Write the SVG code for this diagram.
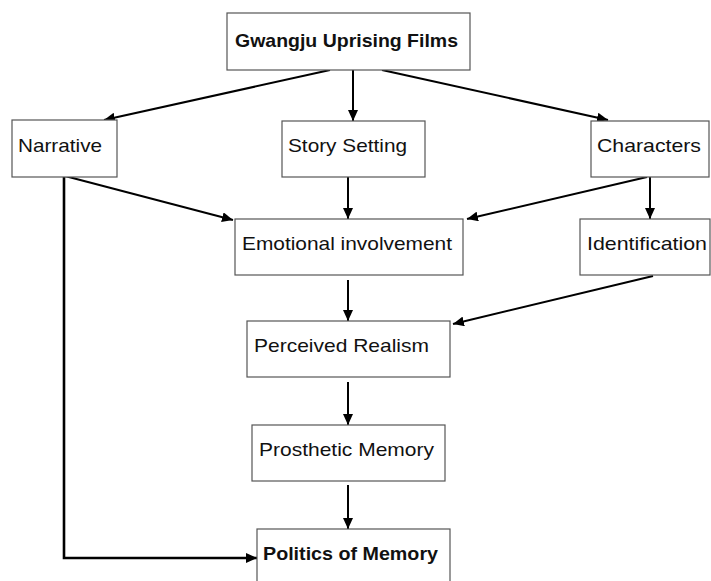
<svg xmlns="http://www.w3.org/2000/svg" width="711" height="581" viewBox="0 0 711 581">
<defs>
<marker id="ah" markerUnits="userSpaceOnUse" markerWidth="12" markerHeight="10" refX="11" refY="5" orient="auto">
<path d="M0,0 L11,5 L0,10 z" fill="#000"/>
</marker>
<style>
.box{fill:#fff;stroke:#555;stroke-width:1.2}
.t{font-family:"Liberation Sans",Arial,sans-serif;font-size:19px;fill:#111}
.b{font-weight:bold}
.c{fill:none;stroke:#000;stroke-width:2}
.thick{stroke-width:2.6}
</style>
</defs>
<rect width="711" height="581" fill="#fff"/>
<g id="connectors">
<line class="c" x1="330" y1="70" x2="104" y2="120" marker-end="url(#ah)"/>
<line class="c" x1="353" y1="70" x2="353" y2="121" marker-end="url(#ah)"/>
<line class="c" x1="382" y1="70" x2="608" y2="120" marker-end="url(#ah)"/>
<line class="c" x1="65" y1="176" x2="233" y2="220" marker-end="url(#ah)"/>
<polyline class="c thick" points="64,176 64,558 257,558" marker-end="url(#ah)"/>
<line class="c" x1="348" y1="177" x2="348" y2="219" marker-end="url(#ah)"/>
<line class="c" x1="647" y1="177" x2="467" y2="219" marker-end="url(#ah)"/>
<line class="c" x1="650" y1="177" x2="650" y2="219" marker-end="url(#ah)"/>
<line class="c" x1="653" y1="276" x2="453" y2="324" marker-end="url(#ah)"/>
<line class="c" x1="348" y1="280" x2="348" y2="321" marker-end="url(#ah)"/>
<line class="c" x1="348" y1="382" x2="348" y2="425" marker-end="url(#ah)"/>
<line class="c" x1="348" y1="485" x2="348" y2="529" marker-end="url(#ah)"/>
</g>
<g id="n-films"><rect class="box" x="227" y="13" width="243" height="57"/><text class="t b" x="235" y="47" textLength="223" lengthAdjust="spacingAndGlyphs">Gwangju Uprising Films</text></g>
<g id="n-narrative"><rect class="box" x="12" y="120" width="105" height="57"/><text class="t" x="18" y="152" textLength="84" lengthAdjust="spacingAndGlyphs">Narrative</text></g>
<g id="n-story"><rect class="box" x="282" y="121" width="143" height="56"/><text class="t" x="288" y="152" textLength="119" lengthAdjust="spacingAndGlyphs">Story Setting</text></g>
<g id="n-characters"><rect class="box" x="591" y="121" width="118" height="56"/><text class="t" x="597" y="152" textLength="104" lengthAdjust="spacingAndGlyphs">Characters</text></g>
<g id="n-emotional"><rect class="box" x="235" y="219" width="228" height="56"/><text class="t" x="242" y="250" textLength="210" lengthAdjust="spacingAndGlyphs">Emotional involvement</text></g>
<g id="n-identification"><rect class="box" x="580" y="219" width="130" height="56"/><text class="t" x="587" y="250" textLength="120" lengthAdjust="spacingAndGlyphs">Identification</text></g>
<g id="n-perceived"><rect class="box" x="247" y="321" width="203" height="56"/><text class="t" x="254" y="352" textLength="175" lengthAdjust="spacingAndGlyphs">Perceived Realism</text></g>
<g id="n-prosthetic"><rect class="box" x="252" y="425" width="193" height="56"/><text class="t" x="259" y="456" textLength="175" lengthAdjust="spacingAndGlyphs">Prosthetic Memory</text></g>
<g id="n-politics"><rect class="box" x="257" y="529" width="193" height="60"/><text class="t b" x="263" y="560" textLength="175" lengthAdjust="spacingAndGlyphs">Politics of Memory</text></g>
</svg>
